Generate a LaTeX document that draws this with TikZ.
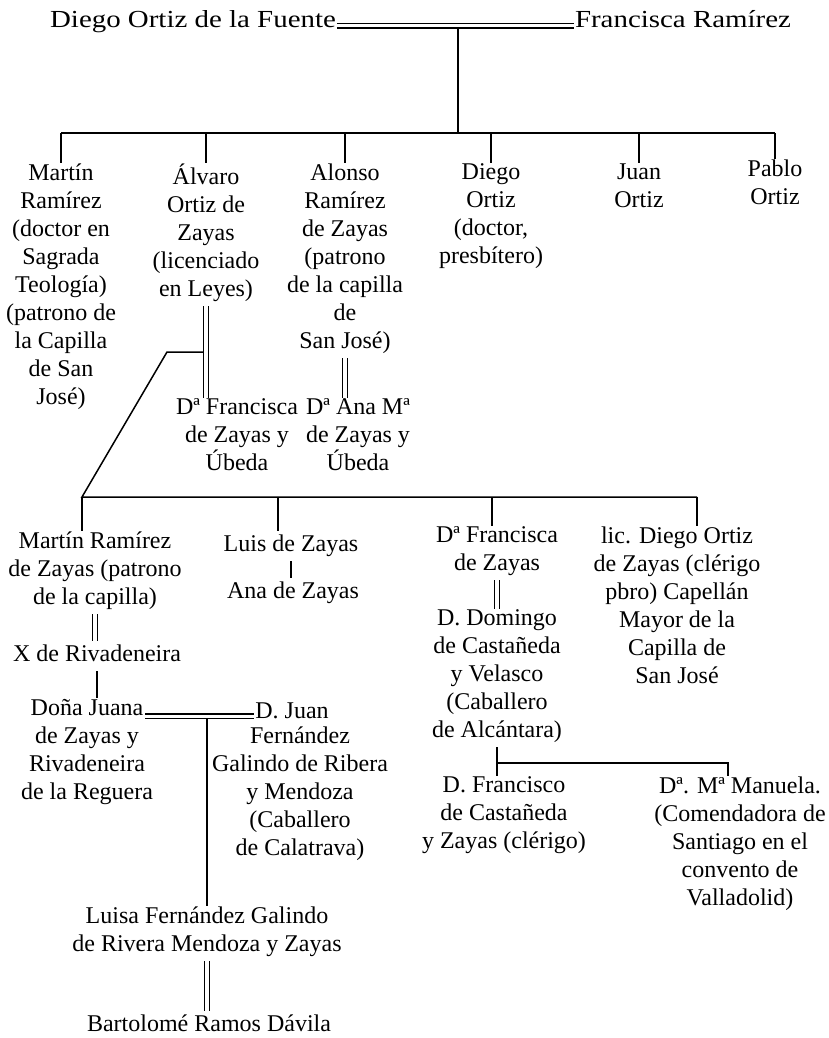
\documentclass[tikz,border=0pt]{standalone}
\usepackage{fontspec}
\setmainfont{Liberation Serif}
\newfontfamily\topfont[FakeStretch=1.18]{Liberation Serif}

\tikzset{
  person/.style={align=center, inner sep=0pt, outer sep=1pt, anchor=north,
    font=\fontsize{24}{28}\selectfont, execute at begin node=\strut},
  head/.style={inner sep=0pt, outer sep=1pt, anchor=base, font=\topfont\fontsize{24.5}{28}\selectfont},
  kin/.style={line width=1.5pt},
  wed/.style={double, double distance=3.5pt, line width=1.1pt}
}

\begin{document}
\begin{tikzpicture}[x=1pt, y=-1pt]
        \fill[white] (0,0) rectangle (829,1038);
        \useasboundingbox (0,0) rectangle (829,1038);
        \node[head] at (193,28) (a){Diego Ortiz de la Fuente};
        \node[head] at (683,28) (b){Francisca Ramírez};
        \node[person] at (61,163) (c){Martín\\Ramírez\\(doctor en\\Sagrada\\Teología)\\(patrono de\\la Capilla\\de San\\José)};
        \node[person] at (206,163) (d){Álvaro\\Ortiz de\\Zayas\\(licenciado\\en Leyes)};
        \node[person] at (345,163) (e){Alonso\\Ramírez\\de Zayas\\(patrono\\de la capilla\\de\\San José)};
        \node[person] at (491,163) (f){Diego\\Ortiz\\(doctor,\\presbítero)};
        \node[person] at (639,163) (g){Juan\\Ortiz};
        \node[person] at (775,159) (h){Pablo\\Ortiz};
        \node[person] at (237,398) (i){Dª Francisca\\de Zayas y\\Úbeda};
        \node[person] at (358,398) (j){Dª Ana Mª\\de Zayas y\\Úbeda};
        \node[person] at (95,531) (k){Martín Ramírez\\de Zayas (patrono\\de la capilla)};
        \node[person] at (291,531) (l){Luis de Zayas};
        \node[person] at (293,578) (m){Ana de Zayas};
        \node[person] at (497,526) (n){Dª Francisca\\de Zayas};
        \node[person] at (677,526) (o){lic. Diego Ortiz\\de Zayas (clérigo\\pbro) Capellán\\Mayor de la\\Capilla de\\San José};
        \node[person] at (97,641) (p){X de Rivadeneira};
        \node[person] at (87,698) (q){Doña Juana\\de Zayas y\\Rivadeneira\\de la Reguera};
        \node[person] at (292,698) (r){D. Juan};
        \node[person] at (300,726) (s){Fernández\\Galindo de Ribera\\y Mendoza\\(Caballero\\de Calatrava)};
        \node[person] at (207,906) (t){Luisa Fernández Galindo\\de Rivera Mendoza y Zayas};
        \node[person] at (209,1011) (u){Bartolomé Ramos Dávila};
        \node[person] at (497,609) (v){D. Domingo\\de Castañeda\\y Velasco\\(Caballero\\de Alcántara)};
        \node[person] at (504,776) (w){D. Francisco\\de Castañeda\\y Zayas (clérigo)};
        \node[person] at (740,776) (x){Dª. Mª Manuela.\\(Comendadora de\\Santiago en el\\convento de\\Valladolid)};
        \coordinate (z1) at (458,133);
        \coordinate (z5) at (167,352);
        \coordinate (z6) at (82,497);
        \coordinate (z7) at (278,497);
        \coordinate (z8) at (492,497);
        \coordinate (z9) at (697,497);
        \coordinate (z10) at (728,763);
        \coordinate (z11) at (145,0);
        \draw[kin] (a.mid east -| z1) -- (z1);
        \draw[kin] (c.north |- z1) -- (h.north |- z1);
        \draw[kin] (c.north |- z1) -- (c.north);
        \draw[kin] (d.north |- z1) -- (d.north);
        \draw[kin] (e.north |- z1) -- (e.north);
        \draw[kin] (f.north |- z1) -- (f.north);
        \draw[kin] (g.north |- z1) -- (g.north);
        \draw[kin] (h.north |- z1) -- (h.north);
        \draw[kin] (d.south |- z5) -- (z5) -- (z6) -- (z9);
        \draw[kin] (z6) -- (z6 |- k.north);
        \draw[kin] (z7) -- (z7 |- l.north);
        \draw[kin] (z8) -- (z8 |- n.north);
        \draw[kin] (z9) -- (z9 |- o.north);
        \draw[kin] (l.south) -- (l.south |- m.north);
        \draw[kin] (p.south) -- (p.south |- q.north);
        \draw[kin] (t.north |- r.mid west) -- (t.north);
        \draw[kin] (v.south) -- (v.south |- w.north);
        \draw[kin] (v.south |- z10) -- (z10) -- (z10 |- x.north);
        \draw[wed] (a.mid east) -- (b.mid west);
        \draw[wed] (d.south) -- (d.south |- i.north);
        \draw[wed] (e.south) -- (e.south |- j.north);
        \draw[wed] (k.south) -- (k.south |- p.north);
        \draw[wed] (n.south) -- (n.south |- v.north);
        \draw[wed] (z11 |- r.mid west) -- (r.mid west);
        \draw[wed] (t.south) -- (t.south |- u.north);
      \end{tikzpicture}
\end{document}
